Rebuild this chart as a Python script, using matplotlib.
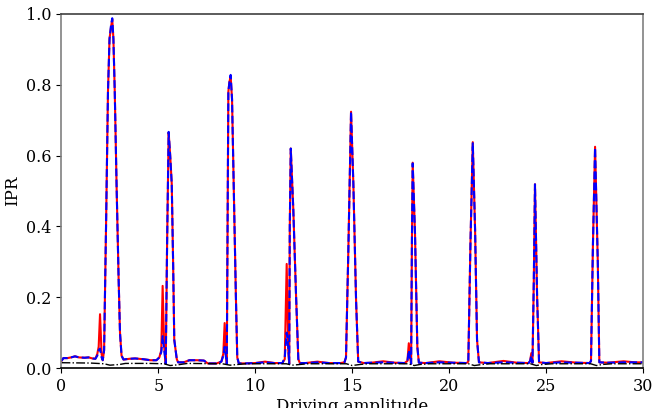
import numpy as np
import matplotlib
matplotlib.use('Agg')
import matplotlib.pyplot as plt

# driving amplitude sample points
amp = [0.00, 0.10, 0.30, 0.50, 0.70, 0.90, 1.20, 1.40, 1.60, 1.75,
       1.85, 1.92, 1.99, 2.07, 2.13, 2.20, 2.30, 2.40, 2.48, 2.55,
       2.62, 2.68, 2.75, 2.85, 2.95, 3.02, 3.10, 3.20, 3.50, 3.80,
       4.20, 4.60, 4.90, 5.05, 5.15, 5.22, 5.30, 5.38, 5.45, 5.53,
       5.61, 5.69, 5.76, 5.82, 5.95, 6.02, 6.30, 6.60, 7.00, 7.35,
       7.55, 8.00, 8.25, 8.35, 8.42, 8.48, 8.53, 8.61, 8.67, 8.73,
       8.80, 8.90, 9.00, 9.07, 9.15, 9.50, 10.00, 10.50, 11.00, 11.40,
       11.52, 11.62, 11.70, 11.75, 11.78, 11.83, 11.96, 12.10, 12.22, 12.30,
       12.60, 13.20, 13.80, 14.40, 14.60, 14.68, 14.80, 14.94, 15.06, 15.20,
       15.31, 15.60, 16.00, 16.60, 17.20, 17.70, 17.85, 17.92, 17.98, 18.04,
       18.08, 18.12, 18.24, 18.36, 18.44, 18.80, 19.50, 20.20, 20.90, 20.99,
       21.10, 21.22, 21.34, 21.44, 21.54, 22.00, 22.80, 23.50, 24.10, 24.18,
       24.24, 24.30, 24.37, 24.43, 24.54, 24.64, 25.00, 25.80, 26.60, 27.25,
       27.32, 27.42, 27.53, 27.67, 27.75, 28.20, 29.00, 29.60, 30.00]

ipr_red = [0.020, 0.028, 0.028, 0.030, 0.033, 0.030, 0.029, 0.030, 0.027, 0.026,
           0.040, 0.060, 0.152, 0.040, 0.022, 0.050, 0.400, 0.780, 0.930, 0.960,
           0.985, 0.930, 0.780, 0.500, 0.250, 0.100, 0.035, 0.024, 0.026, 0.027,
           0.025, 0.022, 0.022, 0.030, 0.050, 0.232, 0.060, 0.012, 0.350, 0.665,
           0.600, 0.520, 0.300, 0.080, 0.025, 0.016, 0.016, 0.022, 0.022, 0.021,
           0.013, 0.013, 0.018, 0.040, 0.127, 0.040, 0.012, 0.780, 0.810, 0.822,
           0.760, 0.480, 0.200, 0.030, 0.013, 0.013, 0.014, 0.018, 0.014, 0.014,
           0.025, 0.294, 0.050, 0.012, 0.400, 0.620, 0.450, 0.210, 0.025, 0.014,
           0.014, 0.018, 0.014, 0.014, 0.016, 0.030, 0.330, 0.724, 0.520, 0.190,
           0.018, 0.014, 0.015, 0.019, 0.015, 0.014, 0.020, 0.070, 0.030, 0.012,
           0.350, 0.580, 0.380, 0.060, 0.015, 0.014, 0.019, 0.015, 0.014, 0.018,
           0.350, 0.638, 0.390, 0.080, 0.016, 0.014, 0.020, 0.015, 0.014, 0.020,
           0.042, 0.015, 0.250, 0.519, 0.200, 0.016, 0.014, 0.019, 0.015, 0.014,
           0.020, 0.350, 0.625, 0.300, 0.016, 0.015, 0.019, 0.016, 0.016]

ipr_blue = [0.020, 0.028, 0.028, 0.030, 0.033, 0.030, 0.029, 0.030, 0.027, 0.026,
            0.035, 0.050, 0.055, 0.030, 0.022, 0.050, 0.400, 0.780, 0.930, 0.965,
            0.988, 0.930, 0.780, 0.500, 0.250, 0.100, 0.035, 0.024, 0.026, 0.027,
            0.025, 0.022, 0.022, 0.030, 0.045, 0.090, 0.050, 0.012, 0.350, 0.667,
            0.600, 0.520, 0.300, 0.080, 0.025, 0.016, 0.016, 0.022, 0.022, 0.021,
            0.013, 0.013, 0.018, 0.035, 0.060, 0.035, 0.012, 0.780, 0.810, 0.828,
            0.760, 0.480, 0.200, 0.030, 0.013, 0.013, 0.014, 0.016, 0.014, 0.014,
            0.030, 0.100, 0.060, 0.012, 0.400, 0.620, 0.450, 0.210, 0.025, 0.014,
            0.014, 0.016, 0.014, 0.014, 0.016, 0.030, 0.330, 0.724, 0.520, 0.190,
            0.018, 0.014, 0.015, 0.016, 0.015, 0.014, 0.020, 0.050, 0.030, 0.012,
            0.350, 0.578, 0.380, 0.060, 0.015, 0.014, 0.016, 0.015, 0.014, 0.018,
            0.350, 0.635, 0.390, 0.080, 0.016, 0.014, 0.016, 0.015, 0.014, 0.020,
            0.035, 0.015, 0.250, 0.519, 0.200, 0.016, 0.014, 0.016, 0.015, 0.014,
            0.020, 0.350, 0.622, 0.300, 0.016, 0.015, 0.016, 0.016, 0.016]

# reference curve (black dash-dot)
amp_ref = [0.0, 1.5, 2.2, 2.5, 3.0, 3.3, 4.5, 5.3, 5.6, 6.0, 6.5, 8.3, 8.7, 9.1,
           9.5, 11.6, 11.9, 12.3, 12.7, 14.7, 15.0, 15.4, 15.8, 17.9, 18.2, 18.5,
           19.0, 21.0, 21.3, 21.7, 22.1, 24.2, 24.5, 24.8, 25.3, 27.3, 27.6, 27.9,
           28.4, 30.0]
ipr_ref = [0.015, 0.014, 0.012, 0.008, 0.010, 0.013, 0.013, 0.012, 0.007, 0.009,
           0.013, 0.012, 0.008, 0.010, 0.012, 0.012, 0.008, 0.010, 0.012, 0.012,
           0.007, 0.010, 0.012, 0.012, 0.007, 0.010, 0.012, 0.012, 0.007, 0.010,
           0.012, 0.012, 0.007, 0.010, 0.012, 0.012, 0.007, 0.010, 0.012, 0.012]

plt.rcParams['font.family'] = 'DejaVu Serif'
plt.rcParams['font.size'] = 11.5

fig = plt.figure(figsize=(6.68, 4.08), dpi=100)
ax = fig.add_axes([0.092, 0.098, 0.8705, 0.8677])

ax.plot(amp, ipr_red, color='red', lw=1.5)
ax.plot(amp, ipr_blue, color='blue', lw=1.5, ls='--')
ax.plot(amp_ref, ipr_ref, color='black', lw=1.0, ls='-.')

ax.set_xlim(0, 30)
ax.set_ylim(0, 1.0)
ax.set_xticks([0, 5, 10, 15, 20, 25, 30])
ax.set_yticks([0.0, 0.2, 0.4, 0.6, 0.8, 1.0])
ax.set_xlabel('Driving amplitude', fontsize=12, labelpad=2)
ax.set_ylabel('IPR', fontsize=12, labelpad=4)

ax.spines['left'].set_color('gray')
ax.spines['right'].set_color('gray')
ax.spines['top'].set_color('#404040')
ax.spines['bottom'].set_color('black')
for s in ax.spines.values():
    s.set_linewidth(1.2)

fig.savefig('out.png', dpi=100)
